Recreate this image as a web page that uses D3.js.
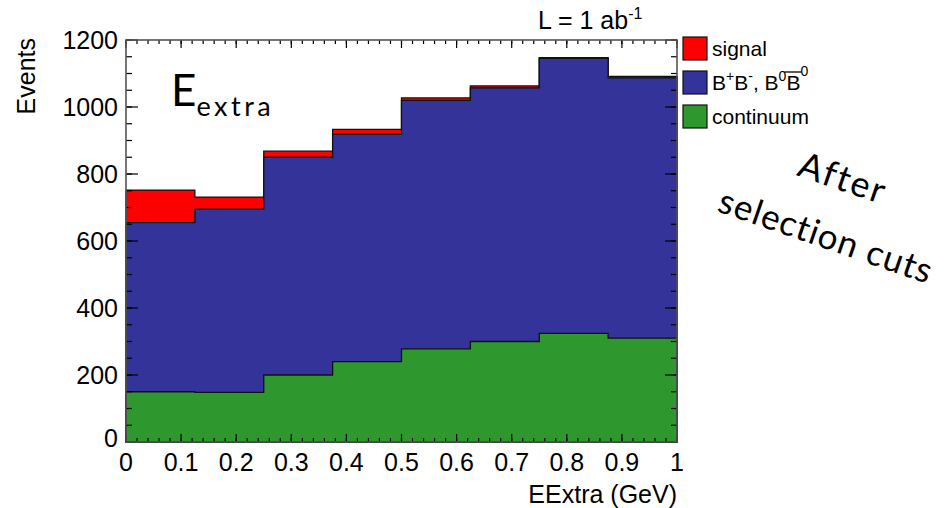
<!DOCTYPE html>
<html><head><meta charset="utf-8">
<script src="https://cdn.jsdelivr.net/npm/d3@7"></script>
<style>body{margin:0;background:#fff}</style>
</head><body><svg id="c" width="951" height="508"></svg>
<script>
// ---- data ----
const binEdges = [0, 0.125, 0.25, 0.375, 0.5, 0.625, 0.75, 0.875, 1];
const continuum = [150, 148, 200, 240, 278, 300, 324, 310];
const bbbar = [505, 547, 650, 678, 742, 757, 821, 777];
const signal = [97, 36, 18, 15, 7, 6, 2, 4];
const seriesKeys = ["continuum", "bbbar", "signal"];
const seriesColors = ["#2e982e", "#333399", "#ff0000"];
const legendOrder = ["signal", "bbbar", "continuum"];
const xTicks = [0, 0.1, 0.2, 0.3, 0.4, 0.5, 0.6, 0.7, 0.8, 0.9, 1];
const xTickLabels = ["0", "0.1", "0.2", "0.3", "0.4", "0.5", "0.6", "0.7", "0.8", "0.9", "1"];
const yTicks = [0, 200, 400, 600, 800, 1000, 1200];
const yTickLabels = ["0", "200", "400", "600", "800", "1000", "1200"];

const rows = binEdges.slice(0, -1).map((e, i) => ({
  x0: e, x1: binEdges[i + 1],
  continuum: continuum[i], bbbar: bbbar[i], signal: signal[i]
}));

const svg = d3.select("#c");
const X0 = 126, X1 = 677, Y0 = 442, Y1 = 40;
const x = d3.scaleLinear().domain([0, 1]).range([X0, X1]);
const y = d3.scaleLinear().domain([0, 1200]).range([Y0, Y1]);

const stacked = d3.stack().keys(seriesKeys)(rows);

// draw cumulative histograms from largest to smallest (ROOT THStack style)
const area = d3.area()
  .x(d => d[0]).y0(y(0)).y1(d => d[1]);
for (let k = stacked.length - 1; k >= 0; k--) {
  const layer = stacked[k];
  const pts = [];
  layer.forEach(d => {
    pts.push([x(d.data.x0), y(d[1])]);
    pts.push([x(d.data.x1), y(d[1])]);
  });
  svg.append("path")
    .attr("d", area(pts))
    .attr("fill", seriesColors[k])
    .attr("stroke", "#111")
    .attr("stroke-width", 1.3)
    .attr("stroke-linejoin", "miter");
}

// ---- axes (ROOT-like frame with ticks on all four sides) ----
const frame = svg.append("g");
const tickCol = "#000";
const xMinor = d3.range(0, 1.0001, 0.02);
const yMinor = d3.range(0, 1200.01, 50);
function xt(v, len) {
  frame.append("line").attr("x1", x(v)).attr("x2", x(v)).attr("y1", Y0).attr("y2", Y0 - len)
    .attr("stroke", tickCol).attr("stroke-width", 1.2);
  frame.append("line").attr("x1", x(v)).attr("x2", x(v)).attr("y1", Y1).attr("y2", Y1 + len)
    .attr("stroke", tickCol).attr("stroke-width", 1.2);
}
function yt(v, len) {
  frame.append("line").attr("x1", X0).attr("x2", X0 + len).attr("y1", y(v)).attr("y2", y(v))
    .attr("stroke", tickCol).attr("stroke-width", 1.2);
  frame.append("line").attr("x1", X1).attr("x2", X1 - len).attr("y1", y(v)).attr("y2", y(v))
    .attr("stroke", tickCol).attr("stroke-width", 1.2);
}
xMinor.forEach(v => xt(v, 4));
xTicks.forEach(v => xt(v, 8));
yMinor.forEach(v => yt(v, 6));
yTicks.forEach(v => yt(v, 12));
frame.append("rect").attr("x", X0).attr("y", Y1).attr("width", X1 - X0).attr("height", Y0 - Y1)
  .attr("fill", "none").attr("stroke", "#555").attr("stroke-width", 1.6);

// tick labels
const font = "'Liberation Sans', Arial, Helvetica, sans-serif";
svg.append("g").selectAll("text").data(xTicks).join("text")
  .attr("x", d => x(d)).attr("y", 471)
  .attr("text-anchor", "middle")
  .attr("font-family", font).attr("font-size", 25)
  .text((d, i) => xTickLabels[i]);
svg.append("g").selectAll("text").data(yTicks).join("text")
  .attr("x", 118).attr("y", d => (d === 0 ? y(d) + 5 : y(d) + 9))
  .attr("text-anchor", "end")
  .attr("font-family", font).attr("font-size", 25)
  .text((d, i) => yTickLabels[i]);

// axis titles
svg.append("text").attr("x", 677).attr("y", 503).attr("text-anchor", "end")
  .attr("font-family", font).attr("font-size", 25).text("EExtra (GeV)");
svg.append("text").attr("transform", "translate(35,38) rotate(-90)")
  .attr("text-anchor", "end")
  .attr("font-family", font).attr("font-size", 25).text("Events");

// luminosity label
const lum = svg.append("text").attr("x", 538).attr("y", 29)
  .attr("font-family", font).attr("font-size", 25);
lum.append("tspan").text("L = 1 ab");
lum.append("tspan").attr("dy", -10).attr("font-size", 16).text("-1");

// E_extra label
const geo = "Lato, 'Noto Sans', sans-serif";
const el = svg.append("text").attr("x", 171).attr("y", 106).attr("font-family", geo);
el.append("tspan").attr("font-size", 44).text("E");
el.append("tspan").attr("font-size", 27).attr("dy", 10).attr("letter-spacing", 3.5).text("extra");

// legend
const legendLabels = { signal: "signal", bbbar: null, continuum: "continuum" };
const legY = [37, 71, 105];
legendOrder.forEach((key, i) => {
  const k = seriesKeys.indexOf(key);
  svg.append("rect").attr("x", 683).attr("y", legY[i]).attr("width", 24).attr("height", 23)
    .attr("fill", seriesColors[k]).attr("stroke", "#111").attr("stroke-width", 1.2);
  const by = legY[i] + 19;
  if (legendLabels[key]) {
    svg.append("text").attr("x", 712).attr("y", by).attr("font-family", font)
      .attr("font-size", 21).text(legendLabels[key]);
  } else {
    const pieces = [
      { t: "B" }, { t: "+", sup: 1 }, { t: "B" }, { t: "-", sup: 1 }, { t: ", B" },
      { t: "0", sup: 1 }, { t: "B", bar: 1 }, { t: "0", sup: 2 }
    ];
    let cx = 712;
    pieces.forEach(p => {
      const fs = p.sup ? 14 : 21;
      const dy = p.sup === 1 ? -9 : (p.sup === 2 ? -14 : 0);
      const t = svg.append("text").attr("x", cx).attr("y", by + dy).attr("font-family", font)
        .attr("font-size", fs).text(p.t);
      const w = t.node().getComputedTextLength();
      if (p.bar) {
        svg.append("line").attr("x1", cx - 2).attr("x2", cx + w + 1)
          .attr("y1", by - 18).attr("y2", by - 18).attr("stroke", "#000").attr("stroke-width", 1.3);
      }
      cx += w;
    });
  }
});

// annotation
const ann = "Lato, 'Noto Sans', sans-serif";
svg.append("text").attr("transform", "translate(843,178) rotate(19)")
  .attr("text-anchor", "middle").attr("dy", "0.35em").attr("letter-spacing", 2)
  .attr("font-family", ann).attr("font-size", 36).text("After");
svg.append("text").attr("transform", "translate(826,236) rotate(19)")
  .attr("text-anchor", "middle").attr("dy", "0.35em").attr("letter-spacing", 1)
  .attr("font-family", ann).attr("font-size", 35).text("selection cuts");
</script>
</body></html>
